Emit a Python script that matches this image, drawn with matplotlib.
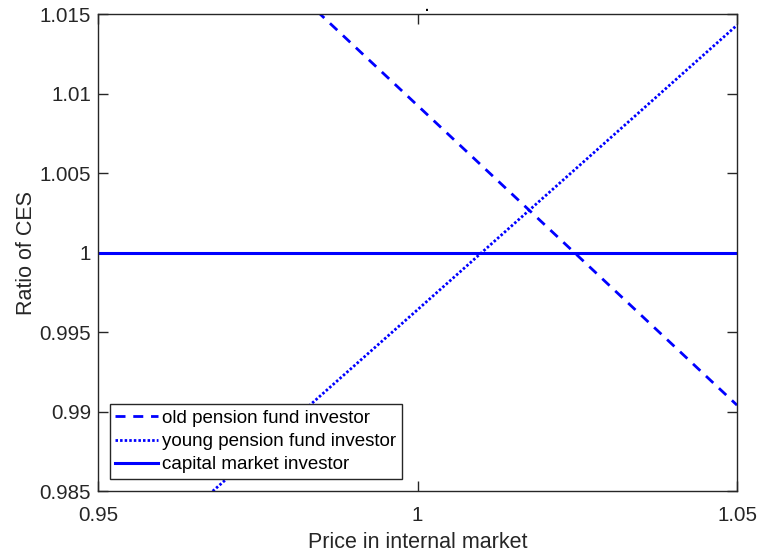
import matplotlib
matplotlib.use('Agg')
import matplotlib.pyplot as plt

plt.rcParams['font.family'] = ['Liberation Sans', 'DejaVu Sans']

# prices in the internal market and ratio of certainty equivalents
price = [0.95, 1.00, 1.05]
old_ratio = [1.0281, 1.00925, 0.9904]
young_ratio = [0.9786, 0.9964, 1.0143]
capital_ratio = [1.0, 1.0, 1.0]

xticks = [0.95, 1.0, 1.05]
yticks = [0.985, 0.99, 0.995, 1.0, 1.005, 1.01, 1.015]
yticklabels = ['0.985', '0.99', '0.995', '1', '1.005', '1.01', '1.015']

fig = plt.figure(figsize=(7.58, 5.54), dpi=100)
ax = fig.add_axes([0.1293, 0.1137, 0.8430, 0.8610])

blue = '#0000ff'
ax.plot(price, old_ratio, color=blue, lw=2, dashes=(3.6, 2.8),
        label='old pension fund investor')
ax.plot(price, young_ratio, color=blue, lw=2, dashes=(0.9, 0.75),
        label='young pension fund investor')
ax.plot(price, capital_ratio, color=blue, lw=2.2, label='capital market investor')

ax.set_xlim(0.95, 1.05)
ax.set_ylim(0.985, 1.015)
ax.set_xticks(xticks)
ax.set_xticklabels(['0.95', '1', '1.05'])
ax.set_yticks(yticks)
ax.set_yticklabels(yticklabels)

edge = '#262626'
for s in ax.spines.values():
    s.set_color(edge)
    s.set_linewidth(1.0)
ax.tick_params(direction='in', length=7, width=1.0, colors=edge,
               labelsize=14.8, top=True, right=True)
ax.tick_params(axis='x', pad=11)
ax.tick_params(axis='y', pad=5)
for t in ax.get_xticklabels() + ax.get_yticklabels():
    t.set_color(edge)

ax.set_xlabel('Price in internal market', fontsize=15.5, color=edge, labelpad=5)
ax.set_ylabel('Ratio of CES', fontsize=15.5, color=edge, labelpad=1.5)
ax.text(0.5155, 1.001, '.', transform=ax.transAxes, ha='center', va='bottom',
        fontsize=10, fontweight='bold', color='black')

leg = ax.legend(loc='lower left', bbox_to_anchor=(0.018, 0.025), fontsize=13.5,
                frameon=True, fancybox=False, edgecolor=edge, framealpha=1,
                handlelength=2.3, handletextpad=0.2, borderpad=0.3,
                labelspacing=0.33, borderaxespad=0)
leg.get_frame().set_linewidth(1.0)

fig.savefig('out.png', dpi=100)
